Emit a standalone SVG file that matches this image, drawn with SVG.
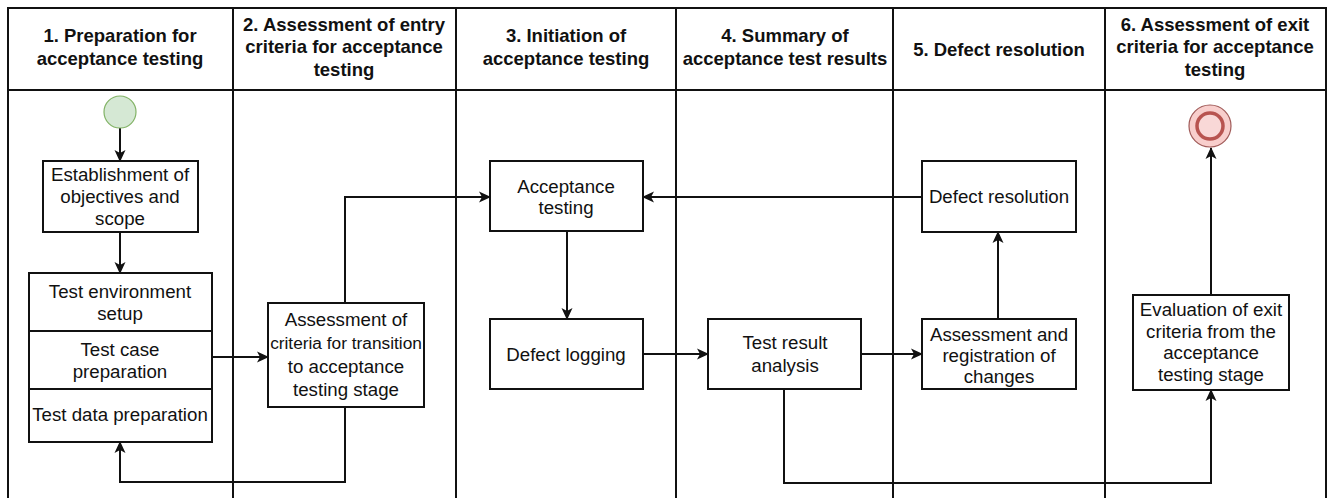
<svg xmlns="http://www.w3.org/2000/svg" width="1331" height="498" viewBox="0 0 1331 498">
  <style>
    .lane { fill: none; stroke: #111; stroke-width: 2; }
    .box { fill: #fff; stroke: #111; stroke-width: 2; }
    .hdr { font-family: "Liberation Sans", Arial, sans-serif; font-size: 18.5px; font-weight: bold; fill: #111; text-anchor: middle; }
    .txt { font-family: "Liberation Sans", Arial, sans-serif; font-size: 18.7px; fill: #111; text-anchor: middle; }
    .edge { fill: none; stroke: #111; stroke-width: 2; marker-end: url(#arrow); }
  </style>
  <defs>
    <marker id="arrow" markerUnits="userSpaceOnUse" markerWidth="12" markerHeight="12" viewBox="0 0 12 12" refX="11" refY="6" orient="auto">
      <path d="M0,0.5 L12,6 L0,11.5 L3,6 z" fill="#111"/>
    </marker>
  </defs>

  <rect width="1331" height="498" fill="#fff"/>

  <!-- swimlane frame -->
  <g id="lanes">
    <path class="lane" d="M8,498 V8 H1326 V498"/>
    <path class="lane" d="M8,90 H1326"/>
    <path class="lane" d="M233,8 V498 M456,8 V498 M676,8 V498 M893,8 V498 M1105,8 V498"/>
  </g>

  <!-- lane headers -->
  <g id="headers">
    <text class="hdr" x="120" y="42">1. Preparation for</text>
    <text class="hdr" x="120" y="65">acceptance testing</text>
    <text class="hdr" x="344" y="31">2. Assessment of entry</text>
    <text class="hdr" x="344" y="53">criteria for acceptance</text>
    <text class="hdr" x="344" y="76">testing</text>
    <text class="hdr" x="566" y="42">3. Initiation of</text>
    <text class="hdr" x="566" y="65">acceptance testing</text>
    <text class="hdr" x="785" y="42">4. Summary of</text>
    <text class="hdr" x="785" y="65">acceptance test results</text>
    <text class="hdr" x="999" y="56">5. Defect resolution</text>
    <text class="hdr" x="1215" y="31">6. Assessment of exit</text>
    <text class="hdr" x="1215" y="53">criteria for acceptance</text>
    <text class="hdr" x="1215" y="76">testing</text>
  </g>

  <!-- connectors -->
  <g id="connectors">
    <path class="edge" d="M120,128 V161"/>
    <path class="edge" d="M120,232 V273"/>
    <path class="edge" d="M212,357 H268"/>
    <path class="edge" d="M345,407 V482 H120 V442"/>
    <path class="edge" d="M345,303 V197 H490"/>
    <path class="edge" d="M922,197 H643"/>
    <path class="edge" d="M567,231 V319"/>
    <path class="edge" d="M643,354 H708"/>
    <path class="edge" d="M861,354 H922"/>
    <path class="edge" d="M998,319 V232"/>
    <path class="edge" d="M784,389 V483 H1211 V390"/>
    <path class="edge" d="M1211,295 V148"/>
  </g>

  <!-- nodes -->
  <g id="start">
    <circle cx="120" cy="112" r="16" fill="#d5e8d4" stroke="#82b366" stroke-width="1.2"/>
  </g>

  <g id="objectives">
    <rect class="box" x="43" y="161" width="155" height="71"/>
    <text class="txt" x="120" y="181">Establishment of</text>
    <text class="txt" x="120" y="203">objectives and</text>
    <text class="txt" x="120" y="225">scope</text>
  </g>

  <g id="preparation">
    <rect class="box" x="29" y="273" width="183" height="58"/>
    <text class="txt" x="120" y="298">Test environment</text>
    <text class="txt" x="120" y="320">setup</text>
    <rect class="box" x="29" y="331" width="183" height="58"/>
    <text class="txt" x="120" y="356">Test case</text>
    <text class="txt" x="120" y="378">preparation</text>
    <rect class="box" x="29" y="389" width="183" height="53"/>
    <text class="txt" x="120" y="421">Test data preparation</text>
  </g>

  <g id="transition-criteria">
    <rect class="box" x="268" y="303" width="156" height="104"/>
    <text class="txt" x="346" y="326">Assessment of</text>
    <text class="txt" x="346" y="349" style="font-size:17.3px">criteria for transition</text>
    <text class="txt" x="346" y="373">to acceptance</text>
    <text class="txt" x="346" y="396">testing stage</text>
  </g>

  <g id="acceptance-testing">
    <rect class="box" x="490" y="161" width="153" height="70"/>
    <text class="txt" x="566" y="193">Acceptance</text>
    <text class="txt" x="566" y="214">testing</text>
  </g>

  <g id="defect-logging">
    <rect class="box" x="490" y="319" width="153" height="70"/>
    <text class="txt" x="566" y="361">Defect logging</text>
  </g>

  <g id="result-analysis">
    <rect class="box" x="708" y="319" width="153" height="70"/>
    <text class="txt" x="785" y="349">Test result</text>
    <text class="txt" x="785" y="372">analysis</text>
  </g>

  <g id="change-registration">
    <rect class="box" x="922" y="319" width="154" height="70"/>
    <text class="txt" x="999" y="341">Assessment and</text>
    <text class="txt" x="999" y="362">registration of</text>
    <text class="txt" x="999" y="383">changes</text>
  </g>

  <g id="defect-resolution">
    <rect class="box" x="922" y="161" width="154" height="71"/>
    <text class="txt" x="999" y="203">Defect resolution</text>
  </g>

  <g id="exit-evaluation">
    <rect class="box" x="1133" y="295" width="156" height="95"/>
    <text class="txt" x="1211" y="316">Evaluation of exit</text>
    <text class="txt" x="1211" y="338">criteria from the</text>
    <text class="txt" x="1211" y="359">acceptance</text>
    <text class="txt" x="1211" y="381">testing stage</text>
  </g>

  <g id="end">
    <circle cx="1210" cy="126" r="21" fill="#f8cecc" stroke="#a05a58" stroke-width="1.2"/>
    <circle cx="1210" cy="126" r="13" fill="#f9d8d7" stroke="#b85450" stroke-width="3.5"/>
  </g>
</svg>
